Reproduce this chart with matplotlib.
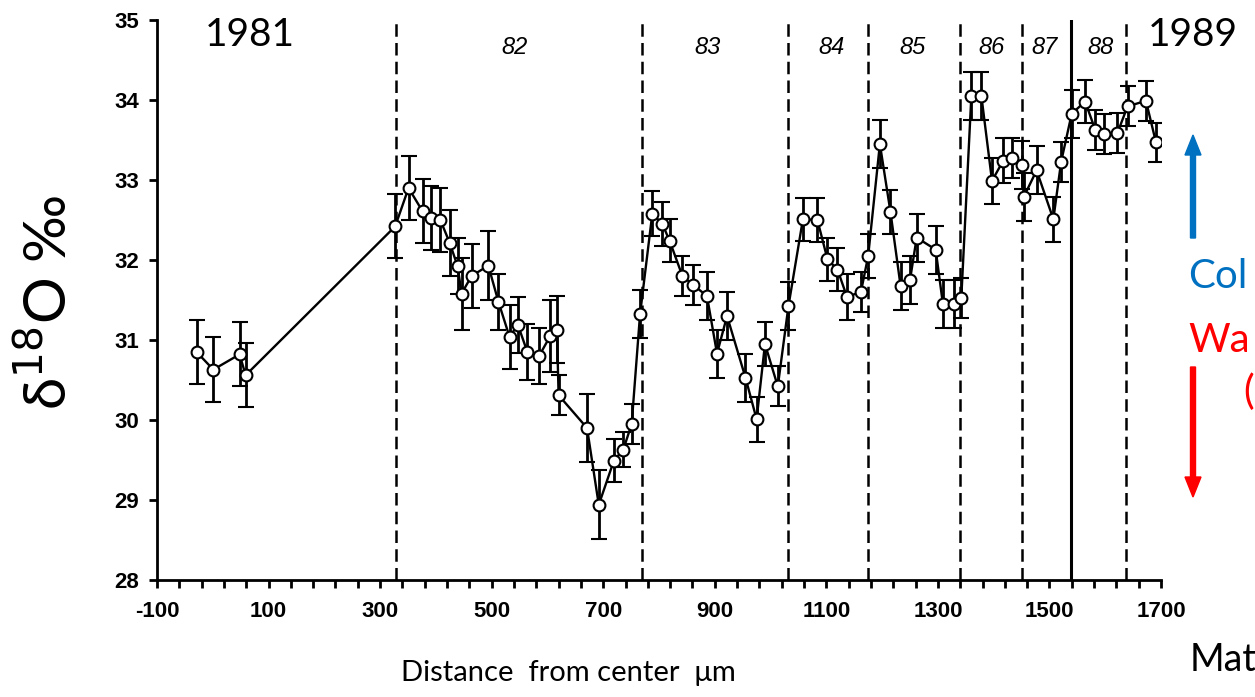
import matplotlib
matplotlib.use('Agg')
import matplotlib.pyplot as plt
from matplotlib.font_manager import FontProperties
from matplotlib.patches import FancyArrow
from matplotlib.ticker import MultipleLocator, FixedLocator

plt.rcParams['axes.unicode_minus'] = False

# ---------------------------------------------------------------------------
# Data
# ---------------------------------------------------------------------------
distance = [-29, 1, 48, 59, 327, 351, 376, 392, 408, 425, 439, 446, 464, 494,
            512, 532, 547, 564, 585, 605, 617, 620, 671, 692, 719, 736, 751,
            766, 788, 806, 819, 842, 861, 886, 904, 922, 955, 975, 990, 1013,
            1032, 1058, 1084, 1102, 1120, 1137, 1162, 1175, 1196, 1215, 1233,
            1250, 1262, 1296, 1309, 1329, 1342, 1360, 1378, 1397, 1417, 1432,
            1450, 1454, 1477, 1507, 1521, 1540, 1564, 1582, 1598, 1622, 1640,
            1673, 1691]
d18o = [30.85, 30.63, 30.82, 30.56, 32.42, 32.90, 32.61, 32.53, 32.50, 32.21,
        31.92, 31.58, 31.80, 31.93, 31.48, 31.04, 31.19, 30.85, 30.80, 31.05,
        31.13, 30.31, 29.90, 28.94, 29.49, 29.63, 29.95, 31.32, 32.58, 32.45,
        32.24, 31.80, 31.69, 31.55, 30.83, 31.30, 30.53, 30.01, 30.95, 30.42,
        31.42, 32.51, 32.50, 32.01, 31.88, 31.54, 31.60, 32.05, 33.45, 32.60,
        31.68, 31.75, 32.28, 32.13, 31.45, 31.45, 31.53, 34.05, 34.05, 32.99,
        33.24, 33.28, 33.19, 32.79, 33.12, 32.51, 33.23, 33.83, 33.98, 33.63,
        33.58, 33.59, 33.92, 33.99, 33.47]
d18o_err = [0.40, 0.41, 0.40, 0.40, 0.40, 0.40, 0.40, 0.40, 0.40, 0.41,
            0.35, 0.45, 0.40, 0.43, 0.35, 0.40, 0.35, 0.35, 0.35, 0.45,
            0.42, 0.25, 0.43, 0.43, 0.27, 0.22, 0.25, 0.30, 0.28, 0.27,
            0.27, 0.25, 0.25, 0.30, 0.30, 0.30, 0.30, 0.28, 0.28, 0.25,
            0.30, 0.27, 0.27, 0.27, 0.27, 0.29, 0.25, 0.28, 0.30, 0.28,
            0.30, 0.30, 0.30, 0.30, 0.30, 0.30, 0.25, 0.30, 0.30, 0.29,
            0.28, 0.25, 0.30, 0.30, 0.30, 0.28, 0.25, 0.30, 0.27, 0.25,
            0.25, 0.25, 0.25, 0.25, 0.24]

year_bounds = [328, 769, 1031, 1174, 1339, 1451, 1538, 1638]
year_solid = [False, False, False, False, False, False, True, False]
year_labels = ['82', '83', '84', '85', '86', '87', '88']
year_label_x = [541, 887, 1110, 1255, 1397, 1492, 1591]

x_major = [-100, 100, 300, 500, 700, 900, 1100, 1300, 1500, 1700]

# ---------------------------------------------------------------------------
# Figure
# ---------------------------------------------------------------------------
W, H = 1255, 697
fig = plt.figure(figsize=(W / 100, H / 100), dpi=100)
ax = fig.add_axes([157 / W, 1 - 580 / H, (1161 - 157) / W, 560 / H])

for xb, solid in zip(year_bounds, year_solid):
    ax.axvline(xb, color='black', lw=2.2 if solid else 1.8,
               ls='-' if solid else (0, (5, 2.5)), zorder=1)

ax.errorbar(distance, d18o, yerr=d18o_err, fmt='-o', color='black', lw=1.7,
            elinewidth=2.0, capsize=5.5, capthick=2.0, ms=8.5,
            mfc='white', mec='black', mew=1.5, zorder=3)

for lab, xl in zip(year_labels, year_label_x):
    ax.text(xl, 34.66, lab, ha='center', va='center', style='italic',
            family='Liberation Sans', size=17)

ax.set_xlim(-100, 1700)
ax.set_ylim(28, 35)
ax.xaxis.set_major_locator(FixedLocator(x_major))
ax.xaxis.set_minor_locator(MultipleLocator(40, offset=-100))
ax.yaxis.set_major_locator(MultipleLocator(1))
for s in ['top', 'right']:
    ax.spines[s].set_visible(False)
for s in ['left', 'bottom']:
    ax.spines[s].set_linewidth(2.0)
ax.tick_params(axis='both', which='both', direction='out', width=2.0)
ax.tick_params(axis='x', which='major', length=6, pad=9)
ax.tick_params(axis='x', which='minor', length=6)
ax.tick_params(axis='y', which='major', length=6, pad=7)
tick_fp = FontProperties(family=['Liberation Sans Narrow', 'Liberation Sans'],
                         weight='bold', size=16)
for lab in ax.get_xticklabels() + ax.get_yticklabels():
    lab.set_fontproperties(tick_fp)

big = ['Lato', 'DejaVu Sans']
fig.text(48 / W, 1 - 302 / H, 'δ$^{18}$O ‰', rotation=90, ha='center',
         va='center', family=big, size=42)
fig.text(568 / W, 1 - 673 / H, 'Distance  from center  μm', ha='center',
         va='center', family=big, size=21)
fig.text(205 / W, 1 - 35 / H, '1981', ha='left', va='center', family=big,
         size=28)
fig.text(1148 / W, 1 - 35 / H, '1989', ha='left', va='center', family=big,
         size=28)
fig.text(1188 / W, 1 - 276 / H, 'Col', ha='left', va='center',
         family=big, size=29, color='#0070C0')
fig.text(1188 / W, 1 - 340 / H, 'Wa', ha='left', va='center',
         family=big, size=29, color='#FF0000')
fig.text(1243 / W, 1 - 392 / H, '(', ha='left', va='center',
         family=big, size=29, color='#FF0000')
fig.text(1190 / W, 1 - 660 / H, 'Mat', ha='left', va='center',
         family=big, size=27)

fig.patches.append(FancyArrow(
    1193 / W, 1 - 238 / H, 0, (238 - 135) / H, width=5 / W,
    head_width=16 / W, head_length=20 / H, length_includes_head=True,
    color='#0070C0', transform=fig.transFigure, figure=fig))
fig.patches.append(FancyArrow(
    1193 / W, 1 - 367 / H, 0, -(497 - 367) / H, width=5 / W,
    head_width=16 / W, head_length=20 / H, length_includes_head=True,
    color='#FF0000', transform=fig.transFigure, figure=fig))

fig.savefig('out.png', dpi=100)
